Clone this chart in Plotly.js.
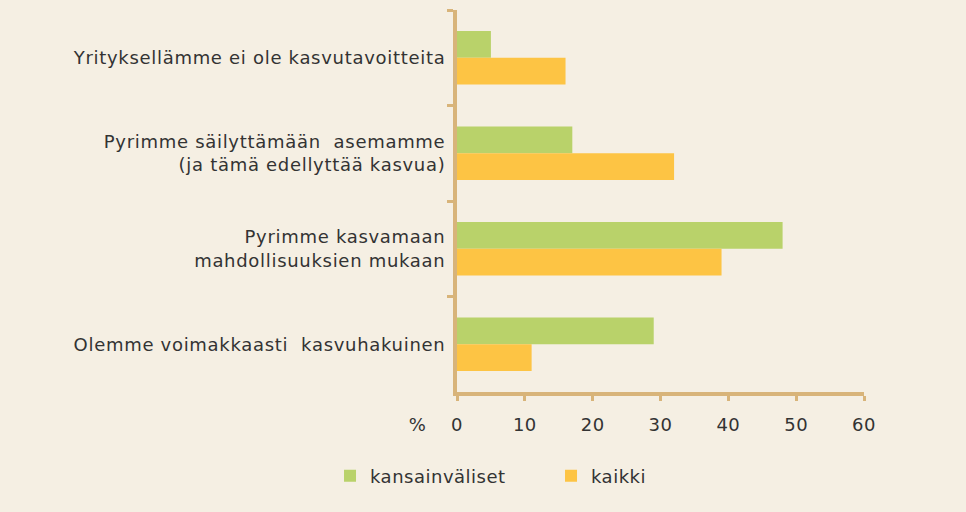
<!DOCTYPE html>
<html>
<head>
<meta charset="utf-8">
<script src="https://cdn.plot.ly/plotly-3.0.1.min.js"></script>
<style>
html,body{margin:0;padding:0;background:#f5efe3;}
#chart{width:966px;height:512px;}
#chart .ytick text{letter-spacing:0.7px;}
#chart .xtick text, #chart .legendtext, #chart .annotation-text{letter-spacing:0.5px;}
</style>
</head>
<body>
<div id="chart"></div>
<script>
var categories = [
  "Yrityksellämme ei ole kasvutavoitteita",
  "Pyrimme säilyttämään  asemamme<br>(ja tämä edellyttää kasvua)",
  "Pyrimme kasvamaan<br>mahdollisuuksien mukaan",
  "Olemme voimakkaasti  kasvuhakuinen"
];
var seriesNames = ["kansainväliset", "kaikki"];
var kansainvaliset = [5, 17, 48, 29];
var kaikki = [16, 32, 39, 11];
var xTicks = [0, 10, 20, 30, 40, 50, 60];

var axisColor = "#d8b47a";
var textColor = "#333333";
var fontFam = "DejaVu Sans, sans-serif";

var traces = [
  {type: "bar", orientation: "h", name: seriesNames[0], y: categories, x: kansainvaliset,
   marker: {color: "#b9d26a", line: {width: 0}}},
  {type: "bar", orientation: "h", name: seriesNames[1], y: categories, x: kaikki,
   marker: {color: "#fdc444", line: {width: 0}}}
];

var layout = {
  width: 966, height: 512,
  paper_bgcolor: "#f5efe3", plot_bgcolor: "#f5efe3",
  margin: {l: 457, r: 102, t: 10, b: 120},
  barmode: "group", bargap: 0.44, bargroupgap: 0,
  font: {family: fontFam, size: 18, color: textColor},
  xaxis: {
    range: [0, 60], tickvals: xTicks, ticktext: xTicks.map(String),
    showgrid: false, zeroline: false,
    showline: true, linecolor: axisColor, linewidth: 4,
    ticks: "outside", ticklen: 5, tickwidth: 3, tickcolor: axisColor,
    tickfont: {family: fontFam, size: 18, color: textColor},
    ticklabelstandoff: 8,
    fixedrange: true
  },
  yaxis: {
    type: "category", autorange: "reversed",
    showgrid: false, zeroline: false,
    showline: true, linecolor: axisColor, linewidth: 4,
    ticks: "outside", tickson: "boundaries", ticklen: 6, tickwidth: 3, tickcolor: axisColor,
    tickfont: {family: fontFam, size: 18, color: textColor},
    ticklabelstandoff: 4,
    fixedrange: true
  },
  showlegend: true,
  legend: {
    orientation: "h", x: -0.312, xanchor: "left", y: -0.22, yanchor: "middle",
    font: {family: fontFam, size: 18, color: textColor},
    bgcolor: "rgba(0,0,0,0)", entrywidth: 176, entrywidthmode: "pixels",
    itemsizing: "constant"
  },
  annotations: [
    {text: "%", xref: "paper", yref: "paper", x: -0.098, y: 0, yshift: -32,
     xanchor: "center", yanchor: "middle", showarrow: false,
     font: {family: fontFam, size: 18, color: textColor}}
  ]
};

Plotly.newPlot("chart", traces, layout, {displayModeBar: false, staticPlot: true});
</script>
</body>
</html>
